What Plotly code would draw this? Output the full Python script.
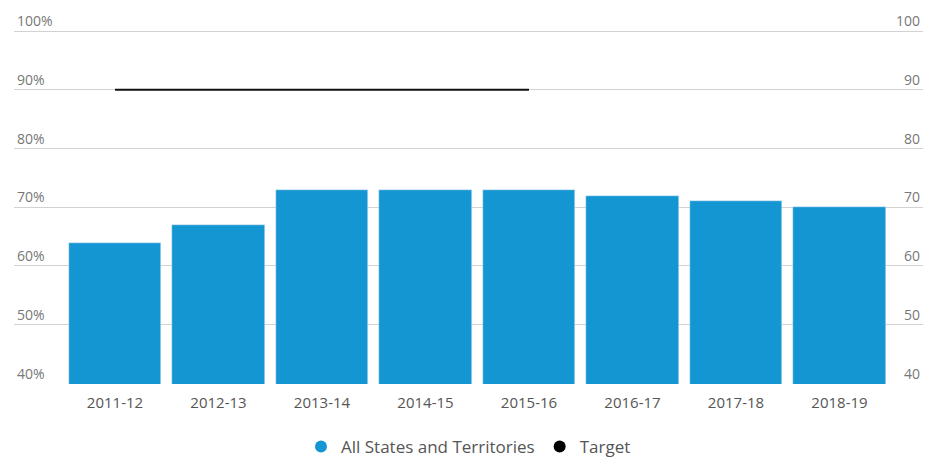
import plotly.graph_objects as go

# Data
years = ["2011-12", "2012-13", "2013-14", "2014-15", "2015-16", "2016-17", "2017-18", "2018-19"]
all_states = [64, 67, 73, 73, 73, 72, 71, 70]
target_years = ["2011-12", "2015-16"]
target_values = [90, 90]
y_ticks = [40, 50, 60, 70, 80, 90, 100]
left_tick_labels = ["40%", "50%", "60%", "70%", "80%", "90%", "100%"]
right_tick_labels = ["40", "50", "60", "70", "80", "90", "100"]

BAR_COLOR = "#1496d3"
FONT = "Open Sans"
Y_RANGE = [39.9, 103.6]

fig = go.Figure()

fig.add_trace(go.Bar(
    x=years, y=all_states, marker_color=BAR_COLOR, width=0.89,
    name="All States and Territories", showlegend=False, base=0,
))

fig.add_trace(go.Scatter(
    x=target_years, y=target_values, mode="lines",
    line=dict(color="#111111", width=2), name="Target", showlegend=False,
))

# Legend entries drawn as round markers
fig.add_trace(go.Scatter(
    x=[None], y=[None], mode="markers", name="All States and Territories",
    marker=dict(color=BAR_COLOR, size=15, symbol="circle"), yaxis="y2",
))
fig.add_trace(go.Scatter(
    x=[None], y=[None], mode="markers", name="Target",
    marker=dict(color="#000000", size=15, symbol="circle"), yaxis="y2",
))

fig.update_layout(
    width=926, height=457,
    margin=dict(l=14, r=3, t=10, b=73, autoexpand=False),
    paper_bgcolor="white", plot_bgcolor="white",
    font=dict(family=FONT, size=14, color="#666666"),
    bargap=0,
    xaxis=dict(
        type="category", categoryorder="array", categoryarray=years,
        range=[-0.976, 7.807], showgrid=False, showline=False, zeroline=False,
        ticks="outside", ticklen=5, tickcolor="rgba(0,0,0,0)",
        tickfont=dict(size=15, color="#555555"), automargin=False,
    ),
    yaxis=dict(
        range=Y_RANGE, tickvals=y_ticks, ticktext=left_tick_labels,
        showgrid=True, gridcolor="#d2d2d2", gridwidth=1, zeroline=False,
        showline=False, ticks="", ticklabelposition="inside top",
        tickfont=dict(size=14, color="#777777"), automargin=False,
    ),
    yaxis2=dict(
        range=Y_RANGE, tickvals=y_ticks, ticktext=right_tick_labels,
        overlaying="y", side="right", showgrid=False, zeroline=False,
        showline=False, ticks="", ticklabelposition="inside top",
        tickfont=dict(size=14, color="#777777"), automargin=False,
    ),
    legend=dict(
        orientation="h", x=0.5, xanchor="center",
        yref="container", y=0.022, yanchor="middle",
        font=dict(size=17, color="#555555"), itemsizing="constant",
    ),
)

fig.write_html("out.html")
